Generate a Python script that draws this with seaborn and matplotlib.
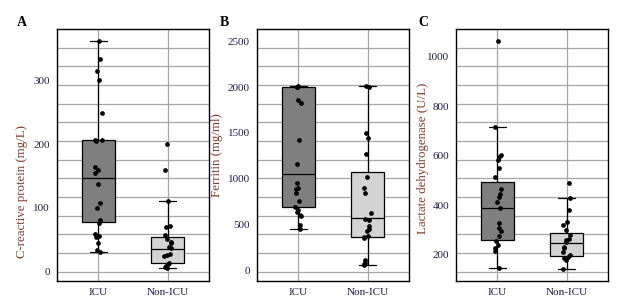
import numpy as np
import pandas as pd
import matplotlib
matplotlib.use("Agg")
import matplotlib.pyplot as plt
import seaborn as sns

# --- data ---
groups = ["ICU", "Non-ICU"]

crp_icu = [362, 334, 315, 301, 249, 207, 206, 205, 164, 160, 154, 137, 107, 100,
           81, 76, 59, 56, 54, 44.5, 33, 31]
crp_non = [200, 159, 111, 72, 70, 58, 51, 46, 44, 38, 37, 28, 26, 25, 14, 12, 8, 7, 5]

fer_icu = [2010, 2005, 2000, 1855, 1826, 1421, 1156, 950, 902, 888, 841, 750, 685,
           660, 635, 598, 587, 497, 450]
fer_non = [2008, 2000, 1493, 1439, 1268, 1015, 902, 841, 624, 562, 543, 478, 453,
           431, 370, 359, 352, 105, 80, 62, 51]

ldh_icu = [1065, 716, 604, 597, 584, 550, 516, 465, 446, 433, 415, 389, 328, 308,
           298, 277, 258, 240, 227, 216, 147]
ldh_non = [492, 429, 382, 335, 321, 301, 281, 263, 261, 254, 234, 227, 213, 200,
           193, 187, 180, 143]

# box summaries as drawn: whisker low, Q1, median, Q3, whisker high
crp_box = [[31, 78.5, 146.5, 206.5, 362], [4.7, 13, 35, 54, 111]]
fer_box = [[450, 692, 1054, 2000, 2015], [51, 363, 569, 1069, 2008]]
ldh_box = [[147, 261, 389, 494, 716], [143, 196, 247, 290, 429]]

crp_ticks = [0, 100, 200, 300]
fer_ticks = [0, 500, 1000, 1500, 2000, 2500]
ldh_ticks = [200, 400, 600, 800, 1000]

panels = [
    ("A", "C-reactive protein (mg/L)", crp_icu, crp_non, crp_box, crp_ticks, (-15, 381)),
    ("B", "Ferritin (mg/ml)", fer_icu, fer_non, fer_box, fer_ticks, (-120, 2635)),
    ("C", "Lactate dehydrogenase (U/L)", ldh_icu, ldh_non, ldh_box, ldh_ticks, (95, 1112)),
]

sns.set_theme(style="white")
plt.rcParams['font.family'] = ['Liberation Serif', 'DejaVu Serif']

fig = plt.figure(figsize=(6.25, 3.01), dpi=100)
lefts = [0.0912, 0.4112, 0.7296]
label_xy = [(-0.19, 0.357), (-0.222, 0.5), (-0.176, 0.488)]
letter_x = [-0.23, -0.217, -0.216]
box_colors = ["#7f7f7f", "#d3d3d3"]
label_color = "#7f3d2a"
tick_color = "#1c1c4a"
grid_color = "#a6a6a6"

np.random.seed(3)
for i, (letter, ylabel, icu, non, box, ticks, ylim) in enumerate(panels):
    ax = fig.add_axes([lefts[i], 0.0664, 0.2432, 0.8373])

    # horizontal grid, evenly spaced across the panel
    for k in range(13):
        f = (k + 0.5) / 13.5
        ax.plot([0, 1], [f, f], transform=ax.transAxes, color=grid_color, lw=0.9, zorder=0)
    for xpos in range(len(groups)):
        ax.axvline(xpos, color=grid_color, lw=0.9, zorder=0)

    df = pd.DataFrame({
        "group": [groups[0]] * len(icu) + [groups[1]] * len(non),
        "value": icu + non,
    })

    stats = []
    for name, b in zip(groups, box):
        stats.append(dict(label=name, whislo=b[0], q1=b[1], med=b[2], q3=b[3],
                          whishi=b[4], fliers=[]))
    bp = ax.bxp(stats, positions=[0, 1], widths=0.47, capwidths=0.25,
                patch_artist=True, showfliers=False, manage_ticks=False,
                boxprops=dict(edgecolor="black", linewidth=0.9),
                medianprops=dict(color="black", linewidth=0.9),
                whiskerprops=dict(color="black", linewidth=0.9),
                capprops=dict(color="black", linewidth=0.9))
    for patch, c in zip(bp["boxes"], box_colors):
        patch.set_facecolor(c)
        patch.set_zorder(2)

    sns.stripplot(data=df, x="group", y="value", order=groups, ax=ax,
                  color="black", size=3.4, jitter=0.06, linewidth=0, zorder=4)

    ax.set_xlim(-0.6, 1.6)
    ax.set_ylim(*ylim)
    ax.set_xticks(range(len(groups)))
    ax.set_xticklabels(groups)
    ax.set_yticks(ticks)
    ax.set_xlabel("")
    ax.set_ylabel(ylabel, color=label_color, fontsize=9.3)
    ax.yaxis.set_label_coords(*label_xy[i])
    ax.tick_params(axis="both", labelsize=8, colors=tick_color, length=3,
                   width=0.8, pad=2)
    ax.tick_params(axis="both", color=grid_color)
    for sp in ax.spines.values():
        sp.set_color("black")
        sp.set_linewidth(1.0)
    ax.text(letter_x[i], 1.025, letter, transform=ax.transAxes,
            fontsize=10, fontweight="bold", color="black", ha="center", va="center")

fig.savefig("out.png", dpi=100)
